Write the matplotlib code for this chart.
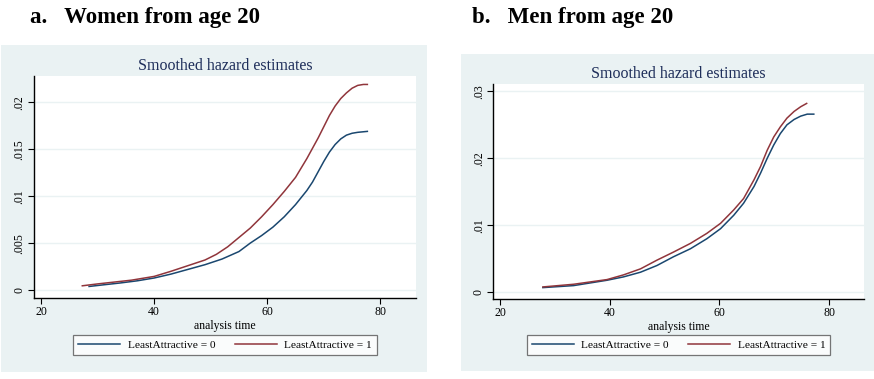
import matplotlib
matplotlib.use("Agg")
import matplotlib.pyplot as plt
from matplotlib.patches import Rectangle

plt.rcParams['font.family'] = ['Liberation Serif', 'DejaVu Serif']

# ---- data ----
women_x0 = [28.5, 31, 34, 37, 40, 43, 46, 49, 52, 55, 57, 59, 61, 63, 65, 67, 68, 69, 70, 71, 72, 73, 74, 75, 76, 77.7]
women_y0 = [.00038, .00055, .00075, .00098, .00128, .0017, .0022, .0027, .0033, .0041, .0050, .0058, .0067,
            .0078, .0091, .0106, .0115, .0126, .0137, .0147, .0155, .0161, .0165, .0167, .0168, .0169]
women_x1 = [27.3, 30, 33, 36, 40, 43, 46, 49, 51, 53, 55, 57, 59, 61, 63, 65, 67, 69, 70, 71, 72, 73, 74, 75, 76, 77, 77.7]
women_y1 = [.00045, .00065, .00085, .00105, .00145, .0020, .0026, .0032, .0038, .0046, .0056, .0066, .0078,
            .0091, .0105, .0120, .0140, .0162, .0174, .0186, .0196, .0204, .0210, .0215, .0218, .0219, .0219]

men_x0 = [27.8, 33.4, 39.5, 42.5, 45.6, 48.6, 51.6, 54.7, 57.7, 60.2, 62.6, 64.4, 66.3, 67.5, 68.7, 69.9,
          71.1, 72.3, 73.6, 74.8, 76.0, 77.2]
men_y0 = [.0007, .0010, .0018, .0023, .0030, .0040, .0053, .0065, .0080, .0095, .0115, .0133, .0158, .0178,
          .0200, .0220, .0237, .0250, .0258, .0263, .0266, .0266]
men_x1 = [27.8, 33.4, 39.5, 42.5, 45.6, 48.6, 51.6, 54.7, 57.7, 60.2, 62.6, 64.4, 66.3, 67.5, 68.7, 69.9,
          71.1, 72.3, 73.6, 74.8, 75.9]
men_y1 = [.0008, .0012, .0019, .0026, .0035, .0048, .0060, .0073, .0088, .0103, .0123, .0140, .0168, .0188,
          .0212, .0232, .0247, .0260, .0270, .0277, .0282]

x_ticks = [20, 40, 60, 80]
women_yticks = [0, .005, .01, .015, .02]
women_ylabels = ['0', '.005', '.01', '.015', '.02']
men_yticks = [0, .01, .02, .03]
men_ylabels = ['0', '.01', '.02', '.03']
series_labels = ['LeastAttractive = 0', 'LeastAttractive = 1']
panel_titles = ['a.   Women from age 20', 'b.   Men from age 20']
chart_title = 'Smoothed hazard estimates'
xlabel = 'analysis time'

BLUE = '#1a476f'
RED = '#90353b'
BG = '#eaf2f3'
TITLE_C = '#1e2e5a'

W, H = 874, 379
fig = plt.figure(figsize=(W / 100, H / 100), dpi=100)

def fx(px):
    return px / W

def fy(py):
    return 1 - py / H

panels = [
    dict(bg=(1, 45, 427, 372), ax=(34, 76, 416, 298), ylim=(-0.00085, 0.0228),
         xs=(women_x0, women_x1), ys=(women_y0, women_y1), yt=women_yticks, yl=women_ylabels,
         title_x=30, title_y=18),
    dict(bg=(461, 54, 874, 371), ax=(493.3, 84, 863.7, 299), ylim=(-0.001, 0.0311),
         xs=(men_x0, men_x1), ys=(men_y0, men_y1), yt=men_yticks, yl=men_ylabels,
         title_x=472, title_y=18),
]

for i, p in enumerate(panels):
    x0, y0, x1, y1 = p['bg']
    fig.patches.append(Rectangle((fx(x0), fy(y1)), fx(x1 - x0), (y1 - y0) / H,
                                 transform=fig.transFigure, facecolor=BG, edgecolor='none', zorder=-5))
    ax0, ay0, ax1, ay1 = p['ax']
    ax = fig.add_axes([fx(ax0), fy(ay1), fx(ax1 - ax0), (ay1 - ay0) / H])
    ax.set_zorder(2)
    ax.set_facecolor('white')
    ax.plot(p['xs'][0], p['ys'][0], color=BLUE, lw=1.1, label=series_labels[0])
    ax.plot(p['xs'][1], p['ys'][1], color=RED, lw=1.1, label=series_labels[1])
    ax.set_xlim(18.76, 86.3)
    ax.set_ylim(*p['ylim'])
    ax.set_xticks(x_ticks)
    ax.set_xticklabels([str(t) for t in x_ticks], fontsize=8.5)
    ax.set_yticks(p['yt'])
    ax.set_yticklabels(p['yl'], fontsize=8.5, rotation=90, va='center')
    ax.grid(axis='y', color=BG, lw=1.0)
    ax.set_axisbelow(True)
    for s in ['top', 'right']:
        ax.spines[s].set_visible(False)
    for s in ['left', 'bottom']:
        ax.spines[s].set_linewidth(1.0)
        ax.spines[s].set_color('black')
    ax.tick_params(direction='out', length=4, width=0.8, pad=2)
    ax.set_xlabel(xlabel, fontsize=8.5, labelpad=1)
    ax.set_title(chart_title, fontsize=11.5, color=TITLE_C, pad=4)
    leg = ax.legend(loc='center', bbox_to_anchor=(0.5, (ay1 - 345) / (ay1 - ay0)), ncol=2,
                    fontsize=8.2, frameon=True, fancybox=False, edgecolor='#555555',
                    handlelength=3.7, columnspacing=1.7, borderpad=0.45, handletextpad=0.65,
                    borderaxespad=0)
    leg.get_frame().set_linewidth(0.9)
    fig.text(fx(p['title_x']), fy(p['title_y']), panel_titles[i], fontsize=16.5, fontweight='bold',
             ha='left', va='center', color='black')

fig.savefig('out.png', dpi=100, facecolor='white')
